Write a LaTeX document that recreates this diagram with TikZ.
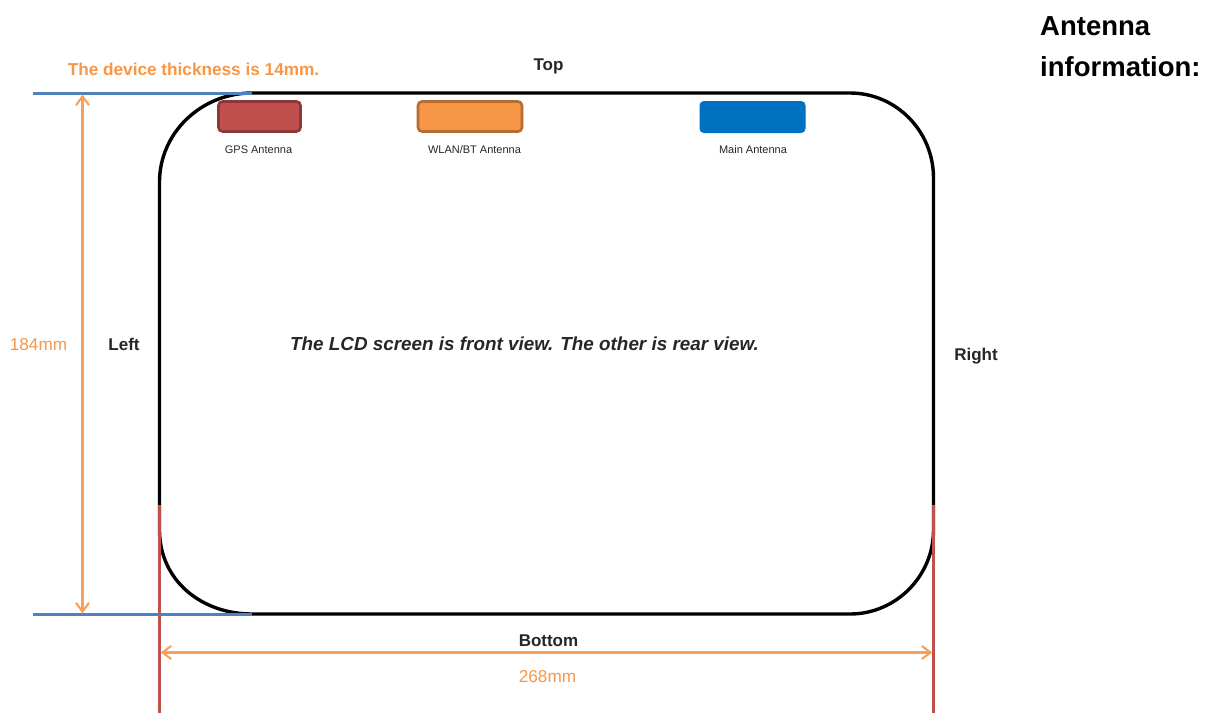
\documentclass[tikz,border=0pt]{standalone}
\usepackage{fontspec}
\setmainfont{Liberation Sans}
\usetikzlibrary{arrows.meta}
\definecolor{dimorange}{HTML}{F79646}
\definecolor{edgered}{HTML}{C0504D}
\definecolor{edgeblue}{HTML}{4F81BD}
\definecolor{gpsfill}{HTML}{C0504D}
\definecolor{gpsedge}{HTML}{8C3836}
\definecolor{wlanedge}{HTML}{B66D31}
\definecolor{mainfill}{HTML}{0070C0}
\tikzset{
  x=1pt,y=-1pt,
  outline/.style={line width=3.4pt,black},
  guideblue/.style={line width=2.6pt,edgeblue},
  guidered/.style={line width=2.8pt,edgered},
  dimline/.style={line width=2.05pt,dimorange!90,{Straight Barb[length=9pt,width=13pt,line width=2.05pt]}-{Straight Barb[length=9pt,width=13pt,line width=2.05pt]}},
  antenna/.style={rounded corners=4pt,line width=2.6pt,minimum height=30pt,inner sep=0pt},
  tiny/.style={font=\fontsize{11}{13}\selectfont,text=black!85,inner sep=0pt},
  side/.style={font=\fontsize{17}{20}\selectfont\bfseries,text=black!85,inner sep=0pt},
  dimtext/.style={font=\fontsize{17.2}{20}\selectfont,text=dimorange,inner sep=0pt},
  heading/.style={font=\fontsize{27.5}{32}\selectfont\bfseries,text=black,inner sep=0pt,anchor=base west}
}
\begin{document}
\begin{tikzpicture}
\useasboundingbox (0,0) rectangle (1212,713);
% outline
\draw[outline] (252,93) -- (850,93)
  .. controls (896,93) and (933.5,131) .. (933.5,178)
  -- (933.5,530)
  .. controls (933.5,576) and (896,614) .. (850,614)
  -- (252,614)
  .. controls (201,614) and (159.5,580) .. (159.5,530)
  -- (159.5,182)
  .. controls (159.5,133) and (201,93) .. (252,93) -- cycle;
% guides
\coordinate (tl) at (33,93.5);
\coordinate (tr) at (252,93.5);
\coordinate (bl) at (33,614.5);
\coordinate (br) at (252,614.5);
\coordinate (lt) at (159.5,505);
\coordinate (lb) at (159.5,713);
\coordinate (rt) at (933.5,505);
\coordinate (rb) at (933.5,713);
\draw[guidered] (lt) -- (lb);
\draw[guidered] (rt) -- (rb);
\draw[guideblue] (tl) -- (tr);
\draw[guideblue] (bl) -- (br);
% dimensions
\coordinate (va) at (82.5,94.5);
\coordinate (vb) at (82.5,613.5);
\coordinate (ha) at (160.5,652.5);
\coordinate (hb) at (932.5,652.5);
\draw[dimline] (va) -- (vb);
\draw[dimline] (ha) -- (hb);
% antennas
\node[antenna,draw=gpsedge,fill=gpsfill,minimum width=82pt] (gps) at (259.5,116.5) {};
\node[antenna,draw=wlanedge,fill=dimorange,minimum width=104pt] (wlan) at (470,116.5) {};
\node[antenna,draw=mainfill,fill=mainfill,minimum width=105pt,line width=1pt,minimum height=31pt] (main) at (752.5,117) {};
\node[tiny] (gpst) at (258.5,150) {GPS Antenna};
\node[tiny] (wlant) at (474.5,150) {WLAN/BT Antenna};
\node[tiny] (maint) at (753,150) {Main Antenna};
% labels
\node[font=\fontsize{17.2}{20}\selectfont\bfseries,text=dimorange,inner sep=0pt] (thick) at (193.5,69) {The device thickness is 14mm.};
\node[side] (top) at (548.5,66) {Top};
\node[side] (left) at (124,344.5) {Left};
\node[side] (right) at (976,356) {Right};
\node[side] (bottom) at (548.5,640.5) {Bottom};
\node[dimtext] (h) at (38.5,344.5) {184mm};
\node[dimtext] (w) at (547.5,676.5) {268mm};
\node[font=\fontsize{18.85}{22}\selectfont\bfseries\itshape,text=black!85,inner sep=0pt] (note) at (524.5,344) {The LCD screen is front view. The other is rear view.};
\node[heading] (h1) at (1040,35) {Antenna};
\node[heading] (h2) at (1040,76) {information:};
\end{tikzpicture}
\end{document}
